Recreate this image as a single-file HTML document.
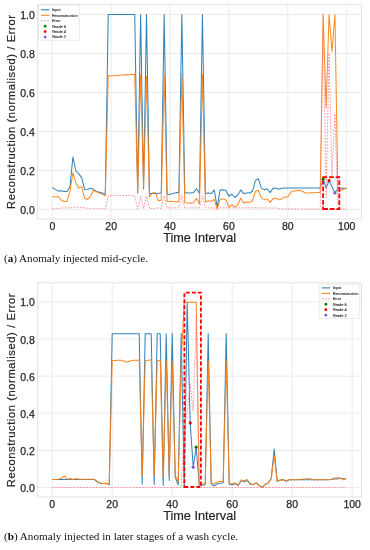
<!DOCTYPE html>
<html><head><meta charset="utf-8"><style>
html,body{margin:0;padding:0;background:#fff;width:370px;height:550px;overflow:hidden}
svg{position:absolute;left:0;top:0;will-change:transform}
svg text{font-family:"Liberation Sans",sans-serif}
.cap{position:absolute;left:3.9px;font-family:"Liberation Serif",serif;font-size:10.3px;letter-spacing:0px;transform:scaleX(1.076);transform-origin:0 0;color:#111;white-space:nowrap;line-height:1;will-change:transform}
.cap b{font-weight:bold}
</style></head><body>
<svg width="370" height="550" viewBox="0 0 370 550">
<g>
<line x1="52.30" y1="4.60" x2="52.30" y2="219.00" stroke="#e9e9e9" stroke-width="0.9"/>
<line x1="111.18" y1="4.60" x2="111.18" y2="219.00" stroke="#e9e9e9" stroke-width="0.9"/>
<line x1="170.06" y1="4.60" x2="170.06" y2="219.00" stroke="#e9e9e9" stroke-width="0.9"/>
<line x1="228.94" y1="4.60" x2="228.94" y2="219.00" stroke="#e9e9e9" stroke-width="0.9"/>
<line x1="287.82" y1="4.60" x2="287.82" y2="219.00" stroke="#e9e9e9" stroke-width="0.9"/>
<line x1="346.70" y1="4.60" x2="346.70" y2="219.00" stroke="#e9e9e9" stroke-width="0.9"/>
<line x1="37.70" y1="209.40" x2="361.50" y2="209.40" stroke="#e9e9e9" stroke-width="0.9"/>
<line x1="37.70" y1="170.41" x2="361.50" y2="170.41" stroke="#e9e9e9" stroke-width="0.9"/>
<line x1="37.70" y1="131.42" x2="361.50" y2="131.42" stroke="#e9e9e9" stroke-width="0.9"/>
<line x1="37.70" y1="92.43" x2="361.50" y2="92.43" stroke="#e9e9e9" stroke-width="0.9"/>
<line x1="37.70" y1="53.44" x2="361.50" y2="53.44" stroke="#e9e9e9" stroke-width="0.9"/>
<line x1="37.70" y1="14.45" x2="361.50" y2="14.45" stroke="#e9e9e9" stroke-width="0.9"/>
<rect x="37.70" y="4.60" width="323.80" height="214.40" fill="none" stroke="#e0e0e0" stroke-width="0.9"/>
<polyline points="52.30,187.37 55.24,189.32 58.19,191.07 61.13,190.68 64.08,191.46 67.02,191.46 69.96,186.79 72.91,156.96 75.85,170.99 78.80,173.92 81.74,177.82 84.68,189.52 87.63,189.32 90.57,188.35 93.52,189.32 96.46,191.46 99.40,192.24 102.35,193.02 105.29,194.39 108.24,14.45 111.18,14.45 114.12,14.45 117.07,14.45 120.01,14.45 122.96,14.45 125.90,14.45 128.84,14.45 131.79,14.45 134.73,14.45 137.68,193.02 140.62,14.45 143.56,188.74 146.51,14.45 149.45,193.41 152.40,193.41 155.34,193.41 158.28,193.61 161.23,192.44 164.17,14.45 167.12,194.00 170.06,194.39 173.00,193.41 175.95,192.63 178.89,192.44 181.84,14.45 184.78,192.63 187.72,193.02 190.67,193.02 193.61,192.44 196.56,188.74 199.50,193.61 202.44,14.45 205.39,193.41 208.33,193.02 211.28,193.41 214.22,189.91 217.16,207.06 220.11,189.91 223.05,189.71 226.00,190.49 228.94,196.34 231.88,194.00 234.83,197.51 237.77,194.97 240.72,189.91 243.66,193.61 246.60,193.02 249.55,193.02 252.49,191.27 255.44,180.35 258.38,178.79 261.32,188.15 264.27,189.91 267.21,188.74 270.16,192.63 273.10,187.96 276.04,188.35 278.99,189.32 281.93,188.35 284.88,187.96 287.82,187.96 290.76,187.96 293.71,187.96 296.65,187.96 299.60,187.96 302.54,187.96 305.48,187.96 308.43,187.96 311.37,187.96 314.32,187.96 317.26,187.96 320.20,188.15 323.15,179.18 326.09,188.15 329.04,180.55 331.98,186.79 334.92,193.02 337.87,188.15 340.81,188.15 343.76,188.15 346.70,188.15" fill="none" stroke="#1f77b4" stroke-width="1.02" stroke-linejoin="round" stroke-opacity="0.92"/>
<polyline points="52.30,196.53 55.24,196.92 58.19,196.53 61.13,200.04 64.08,201.60 67.02,201.41 69.96,191.27 72.91,172.75 75.85,182.89 78.80,187.96 81.74,186.79 84.68,198.29 87.63,199.46 90.57,196.34 93.52,190.29 96.46,191.85 99.40,193.02 102.35,194.39 105.29,195.75 108.24,75.86 111.18,75.66 114.12,75.66 117.07,75.47 120.01,75.27 122.96,75.08 125.90,74.88 128.84,74.69 131.79,74.49 134.73,74.30 137.68,193.02 140.62,74.30 143.56,186.98 146.51,76.25 149.45,196.92 152.40,193.02 155.34,192.63 158.28,200.82 161.23,200.24 164.17,74.88 167.12,201.41 170.06,201.60 173.00,201.60 175.95,201.99 178.89,201.41 181.84,73.91 184.78,202.77 187.72,202.97 190.67,203.16 193.61,202.77 196.56,198.29 199.50,203.94 202.44,74.30 205.39,201.99 208.33,200.82 211.28,201.41 214.22,199.46 217.16,209.01 220.11,199.46 223.05,198.87 226.00,200.04 228.94,207.06 231.88,204.53 234.83,207.06 237.77,204.53 240.72,198.29 243.66,202.97 246.60,201.99 249.55,202.38 252.49,200.82 255.44,191.27 258.38,190.29 261.32,197.90 264.27,199.65 267.21,198.87 270.16,202.38 273.10,198.68 276.04,197.90 278.99,199.85 281.93,198.68 284.88,196.92 287.82,196.92 290.76,192.24 293.71,191.07 296.65,190.68 299.60,190.29 302.54,191.46 305.48,193.02 308.43,193.02 311.37,192.83 314.32,192.83 317.26,192.44 320.20,192.44 323.15,14.45 326.09,108.03 329.04,14.45 331.98,51.49 334.92,14.45 337.87,191.85 340.81,190.49 343.76,189.32 346.70,188.35" fill="none" stroke="#ff7f0e" stroke-width="1.02" stroke-linejoin="round" stroke-opacity="0.92"/>
<polyline points="52.30,208.62 55.24,208.62 58.19,208.62 61.13,208.04 64.08,207.84 67.02,207.84 69.96,207.84 72.91,207.45 75.85,207.06 78.80,207.06 81.74,207.45 84.68,207.84 87.63,208.23 90.57,208.43 93.52,208.43 96.46,208.43 99.40,208.43 102.35,208.43 105.29,208.62 108.24,195.75 111.18,195.56 114.12,195.56 117.07,195.56 120.01,195.56 122.96,195.56 125.90,195.56 128.84,195.56 131.79,195.56 134.73,195.75 137.68,209.01 140.62,196.34 143.56,208.43 146.51,196.34 149.45,208.43 152.40,208.43 155.34,208.43 158.28,207.84 161.23,208.43 164.17,195.75 167.12,207.84 170.06,207.84 173.00,207.84 175.95,207.84 178.89,207.84 181.84,195.75 184.78,207.84 187.72,207.84 190.67,207.84 193.61,207.84 196.56,207.84 199.50,207.84 202.44,195.75 205.39,207.84 208.33,207.84 211.28,207.84 214.22,207.84 217.16,208.82 220.11,207.84 223.05,207.84 226.00,207.84 228.94,207.84 231.88,207.84 234.83,207.84 237.77,207.84 240.72,207.84 243.66,207.84 246.60,207.84 249.55,207.84 252.49,207.84 255.44,207.84 258.38,207.84 261.32,207.84 264.27,208.04 267.21,208.04 270.16,208.04 273.10,208.04 276.04,208.04 278.99,208.43 281.93,208.82 284.88,209.01 287.82,209.01 290.76,209.01 293.71,209.01 296.65,209.01 299.60,209.01 302.54,209.01 305.48,209.01 308.43,209.01 311.37,209.01 314.32,209.01 317.26,209.01 320.20,209.01 323.15,14.45 326.09,197.70 329.04,53.44 331.98,176.26 334.92,113.87 337.87,209.01 340.81,209.01 343.76,209.01 346.70,209.01" fill="none" stroke="#ff7a86" stroke-width="0.8" stroke-dasharray="1.7,1.4"/>
<path d="M323.10,209.00 H339.30 V177.10 H323.10 Z" fill="none" stroke="#ff0000" stroke-width="1.8" stroke-dasharray="4.8,1.9" stroke-dashoffset="0"/>
<circle cx="323.15" cy="179.18" r="1.6" fill="#008000"/>
<circle cx="329.04" cy="180.55" r="1.6" fill="#ee0000"/>
<circle cx="334.92" cy="193.02" r="1.6" fill="#8a4fd0"/>
<text x="52.30" y="229.90" text-anchor="middle" font-size="10.5" fill="#262626" stroke="#262626" stroke-width="0.25">0</text>
<text x="111.18" y="229.90" text-anchor="middle" font-size="10.5" fill="#262626" stroke="#262626" stroke-width="0.25">20</text>
<text x="170.06" y="229.90" text-anchor="middle" font-size="10.5" fill="#262626" stroke="#262626" stroke-width="0.25">40</text>
<text x="228.94" y="229.90" text-anchor="middle" font-size="10.5" fill="#262626" stroke="#262626" stroke-width="0.25">60</text>
<text x="287.82" y="229.90" text-anchor="middle" font-size="10.5" fill="#262626" stroke="#262626" stroke-width="0.25">80</text>
<text x="346.70" y="229.90" text-anchor="middle" font-size="10.5" fill="#262626" stroke="#262626" stroke-width="0.25">100</text>
<text x="34.90" y="213.90" text-anchor="end" font-size="10.5" fill="#262626" stroke="#262626" stroke-width="0.25">0.0</text>
<text x="34.90" y="174.91" text-anchor="end" font-size="10.5" fill="#262626" stroke="#262626" stroke-width="0.25">0.2</text>
<text x="34.90" y="135.92" text-anchor="end" font-size="10.5" fill="#262626" stroke="#262626" stroke-width="0.25">0.4</text>
<text x="34.90" y="96.93" text-anchor="end" font-size="10.5" fill="#262626" stroke="#262626" stroke-width="0.25">0.6</text>
<text x="34.90" y="57.94" text-anchor="end" font-size="10.5" fill="#262626" stroke="#262626" stroke-width="0.25">0.8</text>
<text x="34.90" y="18.95" text-anchor="end" font-size="10.5" fill="#262626" stroke="#262626" stroke-width="0.25">1.0</text>
<text x="199.60" y="242.30" text-anchor="middle" font-size="12.7" fill="#262626" stroke="#262626" stroke-width="0.2">Time Interval</text>
<text transform="translate(15.40,111.70) rotate(-90)" text-anchor="middle" font-size="11.2" letter-spacing="0.58" fill="#262626" stroke="#262626" stroke-width="0.2">Reconstruction (normalised) / Error</text>
<rect x="38.50" y="5.00" width="40.90" height="35.30" rx="0.8" fill="#ffffff" fill-opacity="0.8" stroke="#dddddd" stroke-width="0.6"/>
<line x1="41.00" y1="9.80" x2="49.30" y2="9.80" stroke="#1f77b4" stroke-width="1.02"/>
<text transform="translate(52.00,11.20) scale(0.2188,0.25)" font-size="17.60" fill="#1a1a1a" stroke="#1a1a1a" stroke-width="0.40">Input</text>
<line x1="41.00" y1="15.25" x2="49.30" y2="15.25" stroke="#ff7f0e" stroke-width="1.02"/>
<text transform="translate(52.00,16.65) scale(0.2188,0.25)" font-size="17.60" fill="#1a1a1a" stroke="#1a1a1a" stroke-width="0.40">Reconstruction</text>
<line x1="41.00" y1="20.70" x2="49.30" y2="20.70" stroke="#ff7a86" stroke-width="0.8" stroke-dasharray="1.7,1.4"/>
<text transform="translate(52.00,22.10) scale(0.2188,0.25)" font-size="17.60" fill="#1a1a1a" stroke="#1a1a1a" stroke-width="0.40">Error</text>
<circle cx="45.15" cy="26.15" r="1.4" fill="#008000"/>
<text transform="translate(52.00,27.55) scale(0.2188,0.25)" font-size="17.60" fill="#1a1a1a" stroke="#1a1a1a" stroke-width="0.40">Grade 6</text>
<circle cx="45.15" cy="31.60" r="1.4" fill="#ee0000"/>
<text transform="translate(52.00,33.00) scale(0.2188,0.25)" font-size="17.60" fill="#1a1a1a" stroke="#1a1a1a" stroke-width="0.40">Grade 4</text>
<circle cx="45.15" cy="37.05" r="1.4" fill="#8a4fd0"/>
<text transform="translate(52.00,38.45) scale(0.2188,0.25)" font-size="17.60" fill="#1a1a1a" stroke="#1a1a1a" stroke-width="0.40">Grade 2</text>
<line x1="52.20" y1="282.80" x2="52.20" y2="496.90" stroke="#e9e9e9" stroke-width="0.9"/>
<line x1="112.20" y1="282.80" x2="112.20" y2="496.90" stroke="#e9e9e9" stroke-width="0.9"/>
<line x1="172.20" y1="282.80" x2="172.20" y2="496.90" stroke="#e9e9e9" stroke-width="0.9"/>
<line x1="232.20" y1="282.80" x2="232.20" y2="496.90" stroke="#e9e9e9" stroke-width="0.9"/>
<line x1="292.20" y1="282.80" x2="292.20" y2="496.90" stroke="#e9e9e9" stroke-width="0.9"/>
<line x1="352.20" y1="282.80" x2="352.20" y2="496.90" stroke="#e9e9e9" stroke-width="0.9"/>
<line x1="37.70" y1="487.50" x2="361.50" y2="487.50" stroke="#e9e9e9" stroke-width="0.9"/>
<line x1="37.70" y1="450.38" x2="361.50" y2="450.38" stroke="#e9e9e9" stroke-width="0.9"/>
<line x1="37.70" y1="413.26" x2="361.50" y2="413.26" stroke="#e9e9e9" stroke-width="0.9"/>
<line x1="37.70" y1="376.14" x2="361.50" y2="376.14" stroke="#e9e9e9" stroke-width="0.9"/>
<line x1="37.70" y1="339.02" x2="361.50" y2="339.02" stroke="#e9e9e9" stroke-width="0.9"/>
<line x1="37.70" y1="301.90" x2="361.50" y2="301.90" stroke="#e9e9e9" stroke-width="0.9"/>
<rect x="37.70" y="282.80" width="323.80" height="214.10" fill="none" stroke="#e0e0e0" stroke-width="0.9"/>
<polyline points="52.20,479.52 55.20,479.52 58.20,479.52 61.20,479.52 64.20,479.52 67.20,479.52 70.20,479.52 73.20,479.52 76.20,479.52 79.20,479.52 82.20,479.52 85.20,479.52 88.20,479.52 91.20,479.52 94.20,479.52 97.20,481.75 100.20,483.23 103.20,483.60 106.20,483.23 109.20,484.72 112.20,333.64 115.20,333.64 118.20,333.64 121.20,333.64 124.20,333.64 127.20,333.64 130.20,333.64 133.20,333.64 136.20,333.64 139.20,333.64 142.20,484.16 145.20,333.64 148.20,333.64 151.20,333.64 154.20,484.53 157.20,333.64 160.20,333.64 163.20,485.46 166.20,333.64 169.20,480.45 172.20,333.27 175.20,477.11 178.20,484.72 181.20,333.45 184.20,487.50 187.20,302.27 190.20,422.91 193.20,467.27 196.20,447.22 199.20,485.27 202.20,485.27 205.20,484.72 208.20,333.45 211.20,483.79 214.20,486.02 217.20,483.79 220.20,483.23 223.20,482.86 226.20,333.45 229.20,484.34 232.20,484.72 235.20,483.79 238.20,485.46 241.20,480.63 244.20,481.75 247.20,480.45 250.20,484.16 253.20,484.53 256.20,482.86 259.20,485.64 262.20,487.31 265.20,484.53 268.20,482.86 271.20,478.78 274.20,448.90 277.20,481.38 280.20,480.08 283.20,479.70 286.20,481.38 289.20,479.70 292.20,479.70 295.20,479.70 298.20,479.70 301.20,479.52 304.20,479.70 307.20,479.70 310.20,479.70 313.20,479.70 316.20,479.70 319.20,479.70 322.20,479.70 325.20,479.70 328.20,479.70 331.20,479.52 334.20,478.96 337.20,478.96 340.20,478.22 343.20,478.78 346.20,478.78" fill="none" stroke="#1f77b4" stroke-width="1.02" stroke-linejoin="round" stroke-opacity="0.92"/>
<polyline points="52.20,479.52 55.20,479.52 58.20,479.15 61.20,478.59 64.20,475.81 67.20,479.15 70.20,478.59 73.20,479.52 76.20,478.41 79.20,479.15 82.20,479.33 85.20,479.33 88.20,479.15 91.20,479.15 94.20,479.15 97.20,481.38 100.20,482.86 103.20,483.60 106.20,483.23 109.20,484.72 112.20,360.74 115.20,360.55 118.20,360.36 121.20,360.36 124.20,361.29 127.20,362.22 130.20,360.92 133.20,360.36 136.20,360.18 139.20,359.99 142.20,477.11 145.20,360.74 148.20,360.18 151.20,359.81 154.20,475.44 157.20,360.74 160.20,360.36 163.20,478.22 166.20,360.18 169.20,475.06 172.20,361.66 175.20,475.25 178.20,481.93 181.20,361.29 184.20,302.27 187.20,302.27 190.20,302.27 193.20,302.27 196.20,302.27 199.20,483.79 202.20,483.79 205.20,483.79 208.20,360.74 211.20,483.23 214.20,483.60 217.20,481.93 220.20,481.19 223.20,481.93 226.20,360.74 229.20,483.60 232.20,483.79 235.20,482.86 238.20,485.27 241.20,479.89 244.20,480.63 247.20,479.52 250.20,483.79 253.20,484.53 256.20,482.86 259.20,485.64 262.20,487.31 265.20,484.53 268.20,482.86 271.20,478.78 274.20,455.39 277.20,481.38 280.20,480.08 283.20,479.70 286.20,480.45 289.20,479.70 292.20,479.70 295.20,479.70 298.20,479.70 301.20,479.33 304.20,478.96 307.20,478.78 310.20,478.78 313.20,479.70 316.20,479.70 319.20,479.70 322.20,479.70 325.20,479.70 328.20,479.70 331.20,479.33 334.20,478.03 337.20,477.66 340.20,478.03 343.20,479.70 346.20,478.78" fill="none" stroke="#ff7f0e" stroke-width="1.02" stroke-linejoin="round" stroke-opacity="0.92"/>
<polyline points="52.20,487.50 55.20,487.50 58.20,487.50 61.20,487.50 64.20,487.50 67.20,487.50 70.20,487.50 73.20,487.50 76.20,487.50 79.20,487.50 82.20,487.50 85.20,487.50 88.20,487.50 91.20,487.50 94.20,487.50 97.20,487.50 100.20,487.50 103.20,487.50 106.20,487.50 109.20,487.50 112.20,487.50 115.20,487.50 118.20,487.50 121.20,487.50 124.20,487.50 127.20,487.50 130.20,487.50 133.20,487.50 136.20,487.50 139.20,487.50 142.20,487.50 145.20,487.50 148.20,487.50 151.20,487.50 154.20,487.50 157.20,487.50 160.20,487.50 163.20,487.50 166.20,487.50 169.20,487.50 172.20,487.50 175.20,487.50 178.20,487.50 181.20,487.50 184.20,429.96 187.20,411.40 190.20,384.12 193.20,411.40 196.20,316.75 199.20,487.50 202.20,487.50 205.20,487.50 208.20,487.50 211.20,487.50 214.20,487.50 217.20,487.50 220.20,487.50 223.20,487.50 226.20,487.50 229.20,487.50 232.20,487.50 235.20,487.50 238.20,487.50 241.20,487.50 244.20,487.50 247.20,487.50 250.20,487.50 253.20,487.50 256.20,487.50 259.20,487.50 262.20,487.50 265.20,487.50 268.20,487.50 271.20,487.50 274.20,487.50 277.20,487.50 280.20,487.50 283.20,487.50 286.20,487.50 289.20,487.50 292.20,487.50 295.20,487.50 298.20,487.50 301.20,487.50 304.20,487.50 307.20,487.50 310.20,487.50 313.20,487.50 316.20,487.50 319.20,487.50 322.20,487.50 325.20,487.50 328.20,487.50 331.20,487.50 334.20,487.50 337.20,487.50 340.20,487.50 343.20,487.50 346.20,487.50" fill="none" stroke="#ff7a86" stroke-width="0.8" stroke-dasharray="1.7,1.4"/>
<path d="M184.40,487.00 H200.90 V292.65 H184.40 Z" fill="none" stroke="#ff0000" stroke-width="1.8" stroke-dasharray="3.9,2.1" stroke-dashoffset="0"/>
<circle cx="196.20" cy="447.22" r="1.6" fill="#008000"/>
<circle cx="190.20" cy="422.91" r="1.6" fill="#ee0000"/>
<circle cx="193.20" cy="467.27" r="1.6" fill="#8a4fd0"/>
<text x="52.20" y="507.90" text-anchor="middle" font-size="10.5" fill="#262626" stroke="#262626" stroke-width="0.25">0</text>
<text x="112.20" y="507.90" text-anchor="middle" font-size="10.5" fill="#262626" stroke="#262626" stroke-width="0.25">20</text>
<text x="172.20" y="507.90" text-anchor="middle" font-size="10.5" fill="#262626" stroke="#262626" stroke-width="0.25">40</text>
<text x="232.20" y="507.90" text-anchor="middle" font-size="10.5" fill="#262626" stroke="#262626" stroke-width="0.25">60</text>
<text x="292.20" y="507.90" text-anchor="middle" font-size="10.5" fill="#262626" stroke="#262626" stroke-width="0.25">80</text>
<text x="352.20" y="507.90" text-anchor="middle" font-size="10.5" fill="#262626" stroke="#262626" stroke-width="0.25">100</text>
<text x="34.90" y="492.00" text-anchor="end" font-size="10.5" fill="#262626" stroke="#262626" stroke-width="0.25">0.0</text>
<text x="34.90" y="454.88" text-anchor="end" font-size="10.5" fill="#262626" stroke="#262626" stroke-width="0.25">0.2</text>
<text x="34.90" y="417.76" text-anchor="end" font-size="10.5" fill="#262626" stroke="#262626" stroke-width="0.25">0.4</text>
<text x="34.90" y="380.64" text-anchor="end" font-size="10.5" fill="#262626" stroke="#262626" stroke-width="0.25">0.6</text>
<text x="34.90" y="343.52" text-anchor="end" font-size="10.5" fill="#262626" stroke="#262626" stroke-width="0.25">0.8</text>
<text x="34.90" y="306.40" text-anchor="end" font-size="10.5" fill="#262626" stroke="#262626" stroke-width="0.25">1.0</text>
<text x="199.60" y="519.80" text-anchor="middle" font-size="12.7" fill="#262626" stroke="#262626" stroke-width="0.2">Time Interval</text>
<text transform="translate(15.40,390.05) rotate(-90)" text-anchor="middle" font-size="11.2" letter-spacing="0.58" fill="#262626" stroke="#262626" stroke-width="0.2">Reconstruction (normalised) / Error</text>
<rect x="319.20" y="284.30" width="40.50" height="34.20" rx="0.8" fill="#ffffff" fill-opacity="0.8" stroke="#dddddd" stroke-width="0.6"/>
<line x1="321.70" y1="287.90" x2="330.00" y2="287.90" stroke="#1f77b4" stroke-width="1.02"/>
<text transform="translate(332.70,289.30) scale(0.2188,0.25)" font-size="17.60" fill="#1a1a1a" stroke="#1a1a1a" stroke-width="0.40">Input</text>
<line x1="321.70" y1="293.35" x2="330.00" y2="293.35" stroke="#ff7f0e" stroke-width="1.02"/>
<text transform="translate(332.70,294.75) scale(0.2188,0.25)" font-size="17.60" fill="#1a1a1a" stroke="#1a1a1a" stroke-width="0.40">Reconstruction</text>
<line x1="321.70" y1="298.80" x2="330.00" y2="298.80" stroke="#ff7a86" stroke-width="0.8" stroke-dasharray="1.7,1.4"/>
<text transform="translate(332.70,300.20) scale(0.2188,0.25)" font-size="17.60" fill="#1a1a1a" stroke="#1a1a1a" stroke-width="0.40">Error</text>
<circle cx="325.85" cy="304.25" r="1.4" fill="#008000"/>
<text transform="translate(332.70,305.65) scale(0.2188,0.25)" font-size="17.60" fill="#1a1a1a" stroke="#1a1a1a" stroke-width="0.40">Grade 6</text>
<circle cx="325.85" cy="309.70" r="1.4" fill="#ee0000"/>
<text transform="translate(332.70,311.10) scale(0.2188,0.25)" font-size="17.60" fill="#1a1a1a" stroke="#1a1a1a" stroke-width="0.40">Grade 4</text>
<circle cx="325.85" cy="315.15" r="1.4" fill="#8a4fd0"/>
<text transform="translate(332.70,316.55) scale(0.2188,0.25)" font-size="17.60" fill="#1a1a1a" stroke="#1a1a1a" stroke-width="0.40">Grade 2</text>
</g>
</svg>
<div class="cap" style="top:253.8px">(<b>a</b>) Anomaly injected mid-cycle.</div>
<div class="cap" style="top:532.3px;transform:scaleX(1.083)">(<b>b</b>) Anomaly injected in later stages of a wash cycle.</div>
</body></html>
